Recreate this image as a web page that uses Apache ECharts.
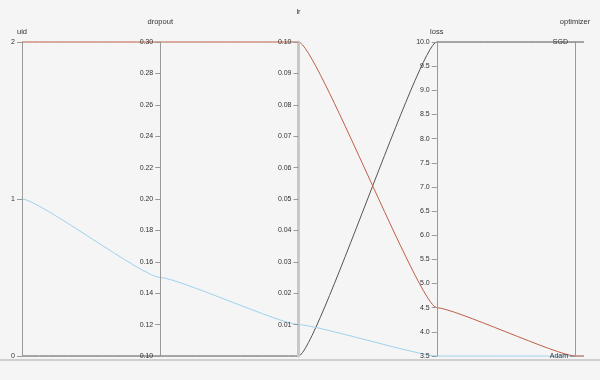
<!DOCTYPE html>
<html>
<head>
<meta charset="utf-8">
<style>html,body{margin:0;padding:0;background:#f5f5f5;}#c{width:600px;height:380px;}</style>
<script src="https://cdn.jsdelivr.net/npm/echarts@6/dist/echarts.min.js"></script>
</head>
<body>
<div id="c"></div>
<script>
var dims = ['uid', 'dropout', 'lr', 'loss', 'optimizer'];
var optimizers = ['Adam', 'SGD'];
var uid = [0, 1, 2];
var dropout = [0.10, 0.15, 0.30];
var lr = [0.00, 0.01, 0.10];
var loss = [10.0, 3.5, 4.5];
var optimizer = ['SGD', 'Adam', 'Adam'];
var lineColors = ['#555555', '#9dd2ee', '#bf5f48'];

var FONT = 'Liberation Sans, Arial, sans-serif';
var chart = echarts.init(document.getElementById('c'));
var txt = { color: '#333', fontSize: 7, fontFamily: FONT, margin: -7, align: 'right' };
function fmt(d) { return function (v) { return v.toFixed(d); }; }
function ax(i, extra) {
  var base = {
    dim: i, name: dims[i], nameLocation: 'end',
    nameTextStyle: { color: '#333', fontSize: 7.5, fontFamily: FONT },
    axisLine: { lineStyle: { color: '#999', width: 1 } },
    axisTick: { lineStyle: { color: '#999' }, length: -5 },
    axisLabel: txt,
    splitLine: { show: false }
  };
  for (var k in extra) base[k] = extra[k];
  return base;
}
var series = uid.map(function (u, i) {
  return {
    type: 'parallel', smooth: false,
    lineStyle: { color: lineColors[i], width: 1, opacity: 1 },
    data: [[u, dropout[i], lr[i], loss[i], optimizer[i]]]
  };
});
chart.setOption({
  backgroundColor: '#f5f5f5',
  animation: false,
  parallel: { left: 22, right: 25, top: 42, bottom: 24, parallelAxisDefault: { type: 'value' } },
  parallelAxis: [
    ax(0, { min: 0, max: 2, interval: 1, nameGap: 6 }),
    ax(1, { min: 0.10, max: 0.30, interval: 0.02, nameGap: 16, axisLabel: Object.assign({}, txt, { formatter: fmt(2) }) }),
    ax(2, { min: 0, max: 0.10, interval: 0.01, nameGap: 26,
      axisLine: { lineStyle: { color: '#c8c8c8', width: 3 } },
      axisLabel: Object.assign({}, txt, { showMinLabel: false, formatter: fmt(2) }) }),
    ax(3, { min: 3.5, max: 10, interval: 0.5, nameGap: 6, axisLabel: Object.assign({}, txt, { formatter: fmt(1) }) }),
    ax(4, { type: 'category', data: optimizers, boundaryGap: false, nameGap: 16 })
  ],
  graphic: [{
    type: 'rect', left: 0, top: 359, shape: { width: 600, height: 2 }, style: { fill: '#cfcfcf' }, silent: true
  }],
  series: series
});

// Curve each segment with horizontal tangents at the axes (points come from ECharts' own axis scales)
var zr = chart.getZr();
zr.storage.getDisplayList(true).forEach(function (el) {
  if (el.type === 'polyline') {
    el.buildPath = function (ctx, shape) {
      var p = shape.points;
      if (!p || p.length < 2) return;
      ctx.moveTo(p[0][0], p[0][1]);
      for (var i = 1; i < p.length; i++) {
        var x0 = p[i - 1][0], y0 = p[i - 1][1], x = p[i][0], y = p[i][1], dx = x - x0;
        ctx.bezierCurveTo(x0 + 0.12 * dx, y0, x - 0.12 * dx, y, x, y);
      }
      var last = p[p.length - 1];
      ctx.lineTo(last[0] + 9, last[1]);
    };
    el.dirtyShape();
  }
});
zr.refreshImmediately();
</script>
</body>
</html>
